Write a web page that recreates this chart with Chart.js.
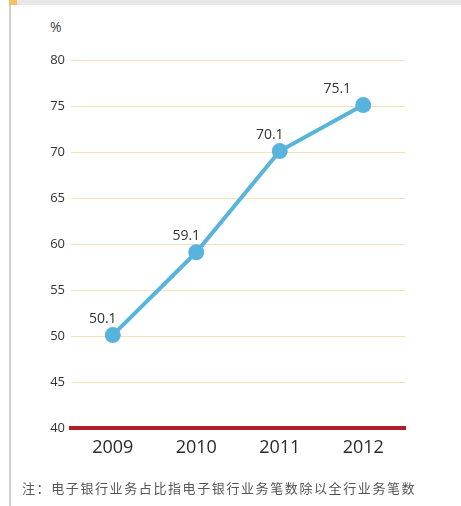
<!DOCTYPE html>
<html>
<head>
<meta charset="utf-8">
<script src="https://cdn.jsdelivr.net/npm/chart.js@4"></script>
<style>
  html, body { margin: 0; padding: 0; background: #fff; }
  .frame { position: relative; width: 461px; height: 506px; overflow: hidden; }
  .topbar { position: absolute; left: 10px; top: 0; width: 451px; height: 5px; background: #e8e8e8; }
  .corner { position: absolute; left: 9px; top: 0; width: 8px; height: 5px; background: #f2c060; }
  .leftline { position: absolute; left: 9px; top: 5px; width: 2px; height: 501px; background: #cfcfcf; }
  .unit { position: absolute; left: 50px; top: 17px; font: 14px "Open Sans", sans-serif; color: #444; }
  .note { position: absolute; left: 22px; top: 478px; font: 13px "Noto Sans CJK SC", sans-serif; color: #555; letter-spacing: 1.6px; white-space: nowrap; }
  canvas { position: absolute; left: 0; top: 0; }
</style>
</head>
<body>
<div class="frame">
  <div class="topbar"></div>
  <div class="corner"></div>
  <div class="leftline"></div>
  <div class="unit">%</div>
  <canvas id="share" width="461" height="506"></canvas>
  <div class="note">注：电子银行业务占比指电子银行业务笔数除以全行业务笔数</div>
</div>
<script>
const years = ['2009', '2010', '2011', '2012'];
const ebankShare = [50.1, 59.1, 70.1, 75.1];
const yTicks = [40, 45, 50, 55, 60, 65, 70, 75, 80];

// label nudges (px), last label sits further left
const labelShiftX = [-10, -10, -10, -26];

const valueLabels = {
  id: 'valueLabels',
  afterDatasetsDraw(chart) {
    const ctx = chart.ctx;
    const meta = chart.getDatasetMeta(0);
    ctx.save();
    ctx.font = '14px "Open Sans", sans-serif';
    ctx.fillStyle = '#333';
    ctx.textAlign = 'center';
    ctx.textBaseline = 'middle';
    meta.data.forEach((pt, i) => {
      ctx.fillText(ebankShare[i].toFixed(1), pt.x + labelShiftX[i], pt.y - 16);
    });
    ctx.restore();
  }
};

new Chart(document.getElementById('share'), {
  type: 'line',
  data: {
    labels: years,
    datasets: [{
      data: ebankShare,
      borderColor: '#58b4dc',
      backgroundColor: '#58b4dc',
      borderWidth: 4,
      pointRadius: 6,
      pointHoverRadius: 6,
      tension: 0
    }]
  },
  options: {
    responsive: false,
    animation: false,
    layout: { padding: { top: 60, right: 56, bottom: 38, left: 0 } },
    plugins: { legend: { display: false }, tooltip: { enabled: false } },
    scales: {
      x: {
        offset: true,
        grid: { display: false, drawTicks: false },
        border: { color: '#b01f29', width: 4 },
        ticks: { color: '#2a2a2a', padding: 9, font: { family: 'Open Sans', size: 18 } },
        afterFit: (s) => { s.height = 40; }
      },
      y: {
        min: 40,
        max: 80,
        afterBuildTicks: (s) => { s.ticks = yTicks.map(v => ({ value: v })); },
        grid: { color: '#f5e2b6', lineWidth: 1, drawTicks: false },
        border: { display: false },
        ticks: { color: '#333', padding: 6, font: { family: 'Open Sans', size: 13 } },
        afterFit: (s) => { s.width = 71; }
      }
    }
  },
  plugins: [valueLabels]
});
</script>
</body>
</html>
